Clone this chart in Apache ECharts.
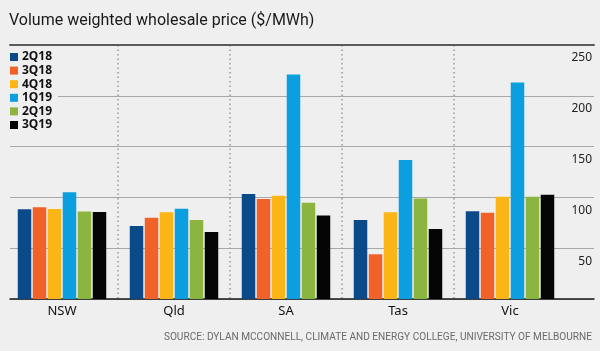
<!DOCTYPE html>
<html>
<head>
<meta charset="utf-8">
<script src="https://cdn.jsdelivr.net/npm/echarts@6/dist/echarts.min.js"></script>
<style>
html,body{margin:0;padding:0;background:#efefef;}
#chart{width:600px;height:351px;}
</style>
</head>
<body>
<div id="chart"></div>
<script>
const categories = ['NSW', 'Qld', 'SA', 'Tas', 'Vic'];
const seriesNames = ['2Q18', '3Q18', '4Q18', '1Q19', '2Q19', '3Q19'];
const v2Q18 = [88.3, 71.8, 103.3, 77.8, 86.3];
const v3Q18 = [90.2, 80.0, 98.4, 44.0, 85.0];
const v4Q18 = [88.6, 85.3, 101.7, 85.3, 100.7];
const v1Q19 = [105.0, 88.9, 221.0, 136.8, 213.0];
const v2Q19 = [86.0, 77.8, 94.8, 99.0, 100.7];
const v3Q19 = [85.6, 65.9, 82.3, 68.9, 102.7];
const yTicks = [0, 50, 100, 150, 200, 250];
const colors = ['#0b4a88', '#f0622a', '#fbb516', '#0b9fe0', '#8cb43f', '#050505'];
const seriesValues = [v2Q18, v3Q18, v4Q18, v1Q19, v2Q19, v3Q19];

const FONT = '"Noto Sans", sans-serif';
const NARROW = 'Roboto, "Noto Sans", sans-serif';
const chart = echarts.init(document.getElementById('chart'), null, {renderer: 'canvas'});

const series = seriesNames.map((n, i) => ({
  name: n,
  type: 'bar',
  xAxisIndex: 2,
  yAxisIndex: 1,
  data: seriesValues[i],
  barGap: '11%',
  barCategoryGap: '21%',
  itemStyle: {color: colors[i]},
  z: 3
}));

chart.setOption({
  backgroundColor: '#efefef',
  animation: false,
  color: colors,
  title: {
    text: 'Volume weighted wholesale price ($/MWh)',
    left: 4, top: 8,
    textStyle: {fontFamily: NARROW, fontSize: 16, fontWeight: 'normal', color: '#1a1a1a'}
  },
  graphic: [{
    type: 'text', right: 8, top: 332,
    style: {text: 'SOURCE: DYLAN MCCONNELL, CLIMATE AND ENERGY COLLEGE, UNIVERSITY OF MELBOURNE',
      font: '10.1px ' + NARROW, fill: '#6a6a6a'}
  }],
  legend: {
    orient: 'vertical', left: 10, top: 51,
    padding: [0, 6, 0, 0],
    backgroundColor: '#efefef',
    itemWidth: 8, itemHeight: 8, itemGap: 1.6,
    icon: 'rect',
    data: seriesNames,
    textStyle: {fontFamily: FONT, fontSize: 12, fontWeight: 'bold', color: '#111', padding: [0,0,0,-1]},
    z: 10
  },
  grid: [
    {left: 10, right: 6, top: 45, bottom: 52},
    {left: 6, right: 34, top: 45, bottom: 52}
  ],
  xAxis: [
    {gridIndex: 0, type: 'value', position: 'bottom', min: 0, max: 1,
      axisLine: {show: true, lineStyle: {color: '#1a1a1a', width: 1.5}},
      axisTick: {show: false}, axisLabel: {show: false}, splitLine: {show: false}},
    {gridIndex: 0, type: 'value', position: 'top', min: 0, max: 1,
      axisLine: {show: true, lineStyle: {color: '#5a5a5a', width: 2}},
      axisTick: {show: false}, axisLabel: {show: false}, splitLine: {show: false}},
    {gridIndex: 1, type: 'category', data: categories,
      axisLine: {show: false}, axisTick: {show: false},
      axisLabel: {fontFamily: FONT, fontSize: 13, color: '#111', margin: 6},
      splitLine: {show: true, showMinLine: false, showMaxLine: false,
        lineStyle: {color: '#9a9a9a', width: 1.5, type: [1.5, 3]}}}
  ],
  yAxis: [
    {gridIndex: 0, type: 'value', position: 'right', min: 0, max: 250, interval: 50,
      axisLine: {show: false}, axisTick: {show: false},
      axisLabel: {inside: true, margin: 2, align: 'right', verticalAlign: 'top', padding: [7, 0, 0, 0],
        fontFamily: FONT, fontSize: 12, color: '#222',
        formatter: v => (yTicks.indexOf(v) > 0 ? String(v) : '')},
      splitLine: {show: true, lineStyle: {color: '#a8a8a8', width: 1}}},
    {gridIndex: 1, type: 'value', min: 0, max: 250, interval: 50, show: false}
  ],
  series: series
});
</script>
</body>
</html>
